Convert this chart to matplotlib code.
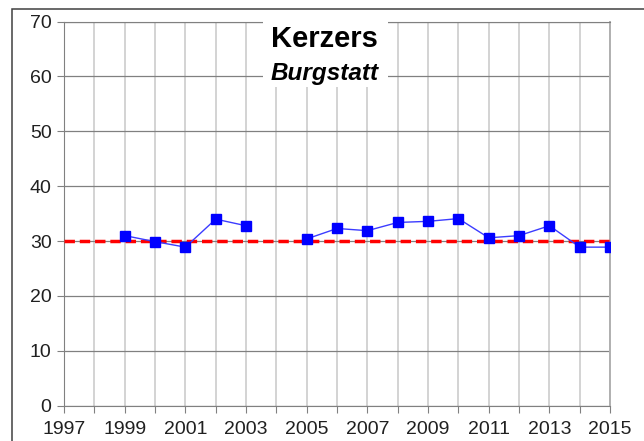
import matplotlib
matplotlib.use("Agg")
import matplotlib.pyplot as plt
import numpy as np
from matplotlib.patches import Rectangle

plt.rcParams['font.family'] = ['Liberation Sans', 'DejaVu Sans']

years = [1999, 2000, 2001, 2002, 2003, 2004, 2005, 2006, 2007, 2008,
         2009, 2010, 2011, 2012, 2013, 2014, 2015]
values = [31.0, 29.9, 28.9, 34.0, 32.8, np.nan, 30.4, 32.3, 31.9, 33.4,
          33.6, 34.1, 30.6, 31.0, 32.8, 28.9, 28.9]
limit_years = [1997, 2015]
limit_values = [30, 30]

fig = plt.figure(figsize=(6.44, 4.41), dpi=100)
ax = fig.add_axes([0.0994, 0.080, 0.848, 0.871])

# outer frame (only top/left visible in the crop)
fig.patches.append(Rectangle((0.019, -0.1), 1.2, 1.079, transform=fig.transFigure,
                             fill=False, edgecolor='#404040', linewidth=1.1))

ax.plot(limit_years, limit_values, color='#ff0000', linestyle=(0, (3, 1.4)),
        linewidth=2.5, zorder=3)
ax.plot(years, values, color='#3c3cff', linewidth=1.0, marker='s',
        markersize=7, markeredgewidth=1, markerfacecolor='#0000ff',
        markeredgecolor='#0000ff', zorder=4)

ax.set_xlim(1997, 2015)
ax.set_ylim(0, 70)
ax.set_xticks(range(1997, 2016, 2))
ax.set_xticks(range(1997, 2016), minor=True)
ax.set_yticks(range(0, 71, 10))
ax.tick_params(axis='both', labelsize=14, colors='#202020', length=5,
               width=0.8, color='#808080', pad=4)
ax.tick_params(axis='x', pad=6)
ax.tick_params(axis='x', which='minor', length=5, width=0.8, color='#808080')
ax.grid(axis='y', color='#808080', linewidth=0.9)
ax.grid(axis='x', which='both', color='#c8c8c8', linewidth=1.1)
ax.set_axisbelow(True)
for s in ax.spines.values():
    s.set_color('#808080')
ax.spines['right'].set_color('#b0b0b0')
ax.spines['right'].set_linewidth(1.4)

# white title box
ax.add_patch(Rectangle((2003.56, 58.0), 4.11, 12.5, facecolor='white',
                       edgecolor='none', zorder=4.5, clip_on=False))
ax.text(2005.6, 66.9, 'Kerzers', ha='center', va='center', fontsize=21,
        fontweight='bold', zorder=5)
ax.text(2005.6, 60.6, 'Burgstatt', ha='center', va='center', fontsize=17.5,
        fontweight='bold', fontstyle='italic', zorder=5)

plt.savefig('out.png', dpi=100)
